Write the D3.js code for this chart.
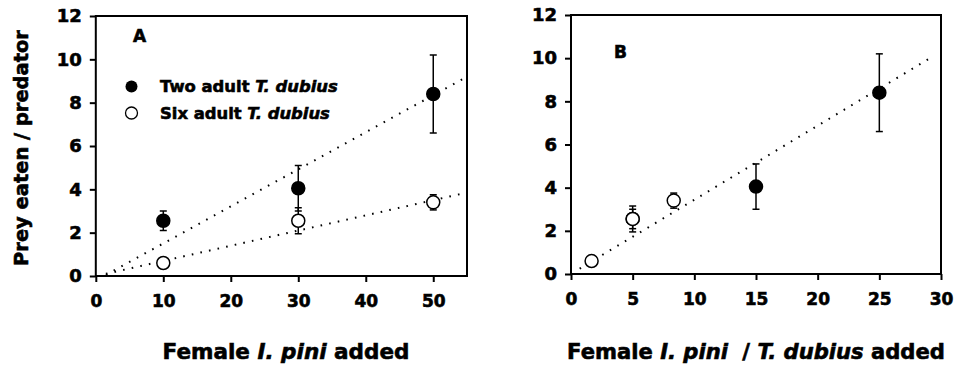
<!DOCTYPE html>
<html>
<head>
<meta charset="utf-8">
<script src="https://cdn.jsdelivr.net/npm/d3@7/dist/d3.min.js"></script>
<style>
  body { margin: 0; background: #fff; }
  svg text { font-family: "DejaVu Sans", sans-serif; font-weight: bold; fill: #000; stroke: #000; stroke-width: 0.6px; }
</style>
</head>
<body>
<svg width="967" height="367"></svg>
<script>
// data
var femalesAdded = [10, 30, 50];
var ratioTwo = [5, 15, 25];
var ratioSix = [1.67, 5, 8.33];
var twoMean = [2.55, 4.05, 8.4];
var twoLow = [2.1, 3.0, 6.6];
var twoHigh = [3.0, 5.1, 10.2];
var sixMean = [0.6, 2.55, 3.4];
var sixLow = [0.6, 1.95, 3.05];
var sixHigh = [0.6, 3.15, 3.75];
var trendTwo = [[1.5, 0.05], [55, 9.2]];
var trendSix = [[1.5, 0.1], [55, 3.85]];
var trendB = [[0.7, 0.25], [29.4, 10.1]];
var yTicks = [0, 2, 4, 6, 8, 10, 12];
var xTicksA = [0, 10, 20, 30, 40, 50];
var xTicksB = [0, 5, 10, 15, 20, 25, 30];

var svg = d3.select("svg");

function pts(xs, mean, lo, hi) {
  return xs.map(function(x, i) { return {x: x, y: mean[i], lo: lo[i], hi: hi[i]}; });
}

function panel(xDom, xRange, yRange, xTicks, label, labelPos) {
  var x = d3.scaleLinear().domain(xDom).range(xRange);
  var y = d3.scaleLinear().domain([0, 12]).range(yRange);
  var g = svg.append("g");

  g.append("rect")
    .attr("x", xRange[0]).attr("y", yRange[1])
    .attr("width", xRange[1] - xRange[0]).attr("height", yRange[0] - yRange[1])
    .attr("fill", "none").attr("stroke", "#000").attr("stroke-width", 2);

  var ya = g.append("g")
    .attr("transform", "translate(" + xRange[0] + ",0)")
    .call(d3.axisLeft(y).tickValues(yTicks).tickSize(6).tickSizeOuter(0).tickPadding(8));
  ya.select(".domain").remove();
  ya.selectAll("line").attr("stroke-width", 2);
  ya.selectAll("text").style("font-size", "18px");

  var xa = g.append("g")
    .attr("transform", "translate(0," + yRange[0] + ")")
    .call(d3.axisBottom(x).tickValues(xTicks).tickSize(6).tickSizeOuter(0).tickPadding(13));
  xa.select(".domain").remove();
  xa.selectAll("line").attr("stroke-width", 2);
  xa.selectAll("text").style("font-size", "17px");

  g.append("text").attr("x", labelPos[0]).attr("y", labelPos[1])
    .style("font-size", "17px").text(label);

  return {g: g, x: x, y: y};
}

function trend(p, seg) {
  p.g.append("path")
    .datum(seg)
    .attr("fill", "none").attr("stroke", "#000").attr("stroke-width", 2)
    .attr("stroke-dasharray", "1.6,7.2")
    .attr("d", d3.line().x(function(d) { return p.x(d[0]); }).y(function(d) { return p.y(d[1]); }));
}

function series(p, data, filled) {
  var s = p.g.append("g");
  data.forEach(function(d) {
    var cx = p.x(d.x);
    if (d.hi > d.lo) {
      s.append("line").attr("x1", cx).attr("x2", cx).attr("y1", p.y(d.lo)).attr("y2", p.y(d.hi))
        .attr("stroke", "#000").attr("stroke-width", 1.5);
      [d.lo, d.hi].forEach(function(v) {
        s.append("line").attr("x1", cx - 3.5).attr("x2", cx + 3.5).attr("y1", p.y(v)).attr("y2", p.y(v))
          .attr("stroke", "#000").attr("stroke-width", 1.5);
      });
    }
  });
  s.selectAll("circle").data(data).enter().append("circle")
    .attr("cx", function(d) { return p.x(d.x); })
    .attr("cy", function(d) { return p.y(d.y); })
    .attr("r", 6.5)
    .attr("fill", filled ? "#000" : "#fff")
    .attr("stroke", "#000").attr("stroke-width", 1.5);
}

// fit a title to the width measured on the figure
function fitWidth(sel, w) {
  var len = sel.node().getComputedTextLength();
  var fs = parseFloat(sel.style("font-size"));
  sel.style("font-size", (fs * w / len) + "px");
}

// panel A
var A = panel([0, 55], [95.8, 467], [276, 16], xTicksA, "A", [133, 42]);
trend(A, trendTwo);
trend(A, trendSix);
series(A, pts(femalesAdded, twoMean, twoLow, twoHigh), true);
series(A, pts(femalesAdded, sixMean, sixLow, sixHigh), false);

// legend
var leg = A.g.append("g");
leg.append("circle").attr("cx", 131.5).attr("cy", 86.5).attr("r", 6).attr("fill", "#000");
leg.append("circle").attr("cx", 131.5).attr("cy", 113).attr("r", 6).attr("fill", "#fff").attr("stroke", "#000").attr("stroke-width", 1.3);
var t1 = leg.append("text").attr("x", 160).attr("y", 92).style("font-size", "15px");
t1.append("tspan").text("Two adult ");
t1.append("tspan").attr("font-style", "italic").text("T. dubius");
var t2 = leg.append("text").attr("x", 160).attr("y", 119).style("font-size", "15px");
t2.append("tspan").text("Six adult ");
t2.append("tspan").attr("font-style", "italic").text("T. dubius");
fitWidth(t1, 178);
fitWidth(t2, 170);

// panel B
var B = panel([0, 30], [571, 941], [274, 15], xTicksB, "B", [614, 58]);
trend(B, trendB);
series(B, pts(ratioTwo, twoMean, twoLow, twoHigh), true);
series(B, pts(ratioSix, sixMean, sixLow, sixHigh), false);

// axis titles
var ty = svg.append("text")
  .attr("transform", "translate(28,148) rotate(-90)")
  .attr("text-anchor", "middle").style("font-size", "19.5px")
  .text("Prey eaten / predator");
fitWidth(ty, 236);

var ta = svg.append("text")
  .attr("x", 286).attr("y", 359)
  .attr("text-anchor", "middle").style("font-size", "21px");
ta.append("tspan").text("Female ");
ta.append("tspan").attr("font-style", "italic").text("I. pini");
ta.append("tspan").text(" added");
fitWidth(ta, 247);

var tb = svg.append("text")
  .attr("x", 756).attr("y", 359)
  .attr("text-anchor", "middle").style("font-size", "21px");
tb.append("tspan").text("Female ");
tb.append("tspan").attr("font-style", "italic").text("I. pini");
tb.append("tspan").attr("dx", 7).text(" / ");
tb.append("tspan").attr("font-style", "italic").text("T. dubius");
tb.append("tspan").text(" added");
fitWidth(tb, 371);
</script>
</body>
</html>
